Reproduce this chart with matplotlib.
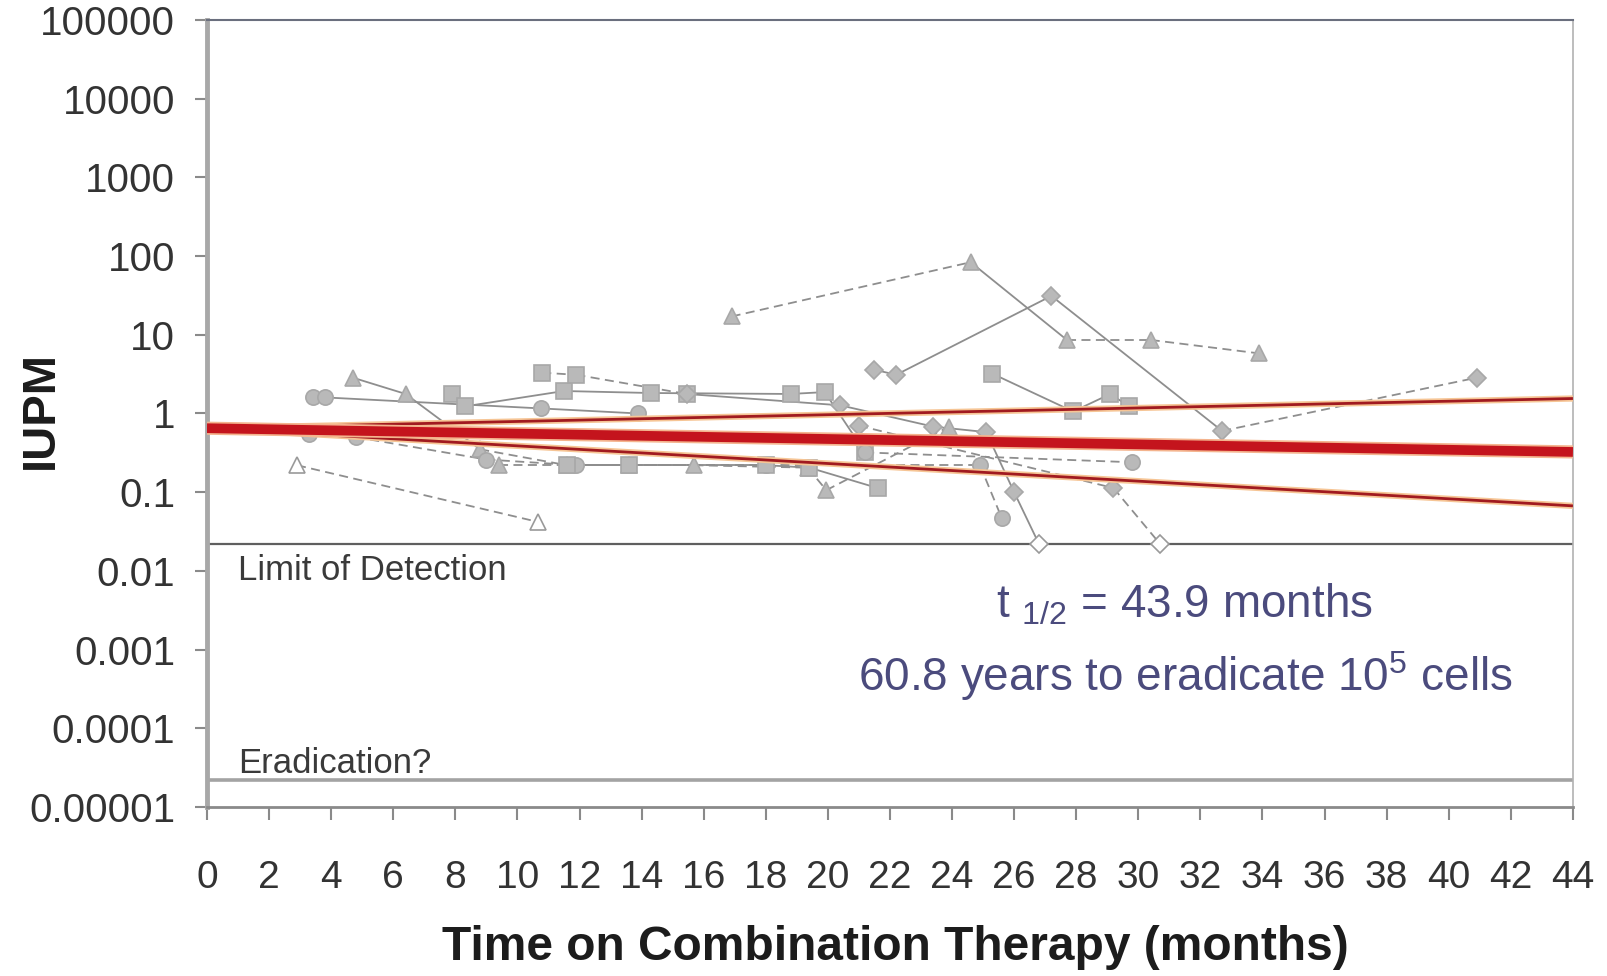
import numpy as np
import matplotlib
matplotlib.use("Agg")
import matplotlib.pyplot as plt
from matplotlib.ticker import FixedLocator, FixedFormatter, NullLocator

plt.rcParams['font.family'] = ['Liberation Sans', 'DejaVu Sans']

# ---- axes / tick definitions ----
x_ticks = list(range(0, 45, 2))
y_ticks = [1e-5, 1e-4, 1e-3, 1e-2, 1e-1, 1, 10, 100, 1000, 10000, 100000]
y_tick_labels = ['0.00001', '0.0001', '0.001', '0.01', '0.1', '1', '10',
                 '100', '1000', '10000', '100000']

# ---- reference levels ----
limit_of_detection = 0.022
eradication_level = 0.000022

# ---- decay fit and confidence bounds ----
fit_start_iupm = 0.65
half_life_months = 43.9
fit_span = [0, 44]
ci_upper_iupm = [0.65, 1.55]
ci_lower_iupm = [0.65, 0.067]

# ---- per-patient measurements (months on therapy, IUPM) ----
p01_t = [2.9, 10.65]
p01_v = [0.22, 0.042]
p02_t = [16.9, 24.6, 27.7, 30.4, 33.9]
p02_v = [17.1, 83.6, 8.6, 8.6, 5.8]
p03_t = [21.5, 22.2, 27.2, 32.7, 40.9]
p03_v = [3.6, 3.1, 31.2, 0.60, 2.85]
p04_t = [4.7, 6.4, 8.8, 11.6, 13.6]
p04_v = [2.85, 1.77, 0.35, 0.22, 0.22]
p05_t = [3.4, 3.8, 10.75, 13.9]
p05_v = [1.6, 1.6, 1.16, 1.0]
p06_t = [7.9, 8.3, 11.5, 14.3, 18.8, 19.9, 21.2]
p06_v = [1.77, 1.23, 1.93, 1.82, 1.77, 1.87, 0.32]
p07_t = [10.8, 11.9, 15.45]
p07_v = [3.3, 3.1, 1.77]
p08_t = [15.45, 20.4, 23.4, 25.1, 26.0, 26.8]
p08_v = [1.77, 1.27, 0.68, 0.58, 0.10, 0.022]
p09_t = [25.3, 27.9, 29.1, 29.7]
p09_v = [3.2, 1.06, 1.77, 1.23]
p10_t = [3.3, 4.8, 9.0, 11.9, 18.0, 24.9, 25.6]
p10_v = [0.55, 0.50, 0.26, 0.22, 0.22, 0.22, 0.047]
p11_t = [9.4, 15.7, 19.35, 19.95, 23.9]
p11_v = [0.22, 0.22, 0.205, 0.106, 0.68]
p12_t = [21.0, 29.2, 30.7]
p12_v = [0.70, 0.113, 0.022]
p13_t = [21.2, 29.8]
p13_v = [0.32, 0.24]
p14_t = [11.6, 13.6, 18.0, 19.4, 21.6]
p14_v = [0.22, 0.22, 0.22, 0.205, 0.113]

# marker, filled, segment styles (s = solid, d = dashed)
patients = [
    (p01_t, p01_v, '^', False, 'd'),
    (p02_t, p02_v, '^', True, 'dsdd'),
    (p03_t, p03_v, 'D', True, 'sssd'),
    (p04_t, p04_v, '^', True, 'ssdd'),
    (p05_t, p05_v, 'o', True, 'sss'),
    (p06_t, p06_v, 's', True, 'ssssss'),
    (p07_t, p07_v, 's', True, 'dd'),
    (p08_t, p08_v, 'D', True, 'sssss'),
    (p09_t, p09_v, 's', True, 'sss'),
    (p10_t, p10_v, 'o', True, 'dddddd'),
    (p11_t, p11_v, '^', True, 'dddd'),
    (p12_t, p12_v, 'D', True, 'dd'),
    (p13_t, p13_v, 'o', True, 'd'),
    (p14_t, p14_v, 's', True, 'ssss'),
]
marker_sizes = {'^': 12, 's': 11, 'o': 11, 'D': 9}

fig = plt.figure(figsize=(16.07, 9.76), dpi=100)
ax = fig.add_axes([0.1288, 0.1732, 0.85, 0.8063])
ax.set_yscale('log')
ax.set_xlim(0, 44)
ax.set_ylim(1e-5, 1e5)

line_gray = '#8e8e8e'
fill_gray = '#b9b9b9'
edge_gray = '#a8a8a8'

for t, v, mk, filled, segs in patients:
    for i in range(len(t) - 1):
        ls = '-' if segs[i] == 's' else (0, (5, 3))
        ax.plot(t[i:i + 2], v[i:i + 2], color=line_gray, lw=1.3, ls=ls,
                zorder=2, solid_capstyle='butt')
    for ti, vi in zip(t, v):
        face = fill_gray if (filled and vi > limit_of_detection) else 'white'
        ax.plot([ti], [vi], ls='none', marker=mk, ms=marker_sizes[mk],
                mfc=face, mec=edge_gray if face != 'white' else '#9a9a9a',
                mew=1.2, zorder=3)

# reference levels
ax.axhline(limit_of_detection, color='#5f5f5f', lw=1.6, zorder=1)
ax.axhline(eradication_level, color='#a3a3a3', lw=2.6, zorder=1)

# exponential decay fit with bounds
tt = np.linspace(fit_span[0], fit_span[1], 300)
fit = fit_start_iupm * 0.5 ** (tt / half_life_months)
for lo_hi in (ci_upper_iupm, ci_lower_iupm):
    ax.plot(fit_span, lo_hi, color='#f6c595', lw=4.5, zorder=5,
            solid_capstyle='butt')
    ax.plot(fit_span, lo_hi, color='#a11a20', lw=2.0, zorder=6,
            solid_capstyle='butt')
ax.plot(tt, fit, color='#f4b48e', lw=9.5, zorder=7, solid_capstyle='butt')
ax.plot(tt, fit, color='#c4141d', lw=7, zorder=8, solid_capstyle='butt')

# ticks
ax.xaxis.set_major_locator(FixedLocator(x_ticks))
ax.xaxis.set_minor_locator(NullLocator())
ax.yaxis.set_major_locator(FixedLocator(y_ticks))
ax.yaxis.set_major_formatter(FixedFormatter(y_tick_labels))
ax.yaxis.set_minor_locator(NullLocator())
ax.tick_params(axis='x', direction='out', length=9, width=1.5,
               color='#8a8a8a', labelsize=28, labelcolor='#333333', pad=29)
ax.tick_params(axis='y', direction='out', length=9, width=1.5,
               color='#8a8a8a', labelsize=29, labelcolor='#333333', pad=14)

for side, col, lw in (('left', '#a8a8a8', 3.5), ('bottom', '#8a8a8a', 2.0),
                      ('top', '#6a6f7e', 1.5), ('right', '#b2b2b2', 1.2)):
    ax.spines[side].set_color(col)
    ax.spines[side].set_linewidth(lw)

ax.set_xlabel('Time on Combination Therapy (months)', fontsize=34.5,
              fontweight='bold', color='#1c1c1c')
ax.xaxis.label.set_va('center')
ax.xaxis.set_label_coords(0.5037, -0.179)
ax.set_ylabel('IUPM', fontsize=34, fontweight='bold', color='#1c1c1c')
ax.yaxis.label.set_va('center')
ax.yaxis.set_label_coords(-0.1215, 0.504)

ax.text(0.0227, 0.301, 'Limit of Detection', transform=ax.transAxes,
        fontsize=25, color='#3a3a3a', va='center', ha='left')
ax.text(0.0227, 0.0546, 'Eradication?', transform=ax.transAxes,
        fontsize=25, color='#3a3a3a', va='center', ha='left')

ann_color = '#4b4b7d'
ax.text((1184 - 207) / 1366, (807 - 605) / 787,
        r't $\mathregular{_{1/2}}$ = 43.9 months', transform=ax.transAxes,
        fontsize=33, color=ann_color, ha='center', va='center')
ax.text((1185 - 207) / 1366, (807 - 676) / 787,
        r'60.8 years to eradicate 10$\mathregular{^5}$ cells',
        transform=ax.transAxes, fontsize=33, color=ann_color,
        ha='center', va='center')

fig.savefig('out.png', dpi=100)
